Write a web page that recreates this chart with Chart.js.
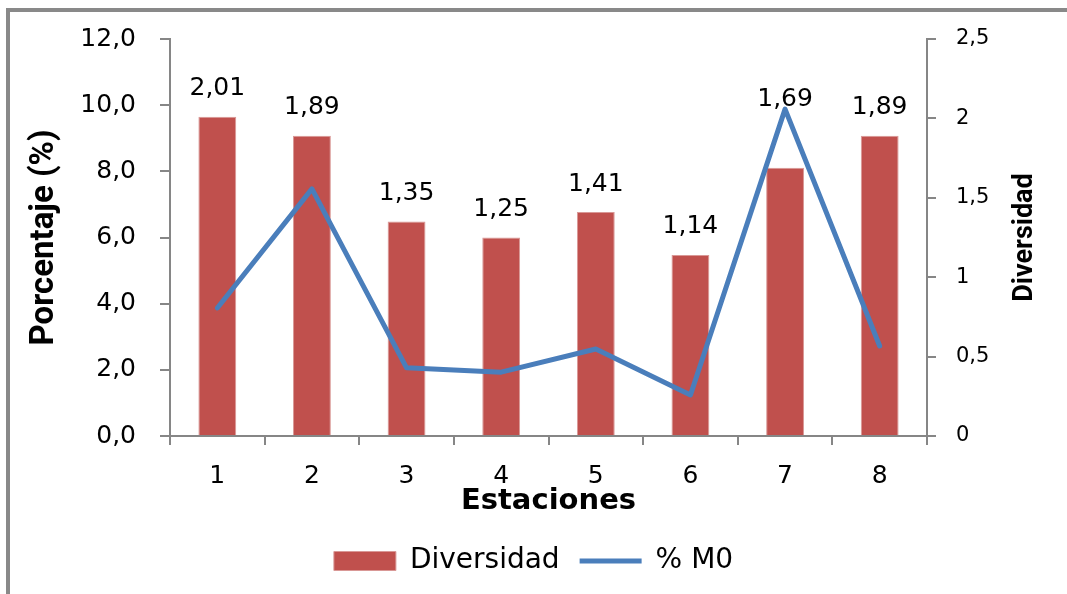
<!DOCTYPE html>
<html lang="es">
<head>
<meta charset="UTF-8">
<title>Diversidad y % M0 por estación</title>
<script src="https://cdn.jsdelivr.net/npm/chart.js"></script>
<style>
    html, body {
        margin: 0;
        background: #ffffff;
        overflow: hidden;
    }
    .frame {
        position: fixed;
        left: 6px;
        top: 8px;
        width: 1100px;
        height: 640px;
        border-left: 4px solid #898989;
        border-top: 4px solid #898989;
    }
    #chart {
        position: absolute;
        left: 0;
        top: 0;
    }
</style>
</head>
<body>
<div class="frame"></div>
<canvas id="chart" width="1067" height="594"></canvas>

<script>
// datos
const estaciones = ['1', '2', '3', '4', '5', '6', '7', '8'];
const diversidad = [2.01, 1.89, 1.35, 1.25, 1.41, 1.14, 1.69, 1.89];
const porcentajeM0 = [3.87, 7.47, 2.06, 1.93, 2.63, 1.24, 9.88, 2.72];
const ticksIzq = ['0,0', '2,0', '4,0', '6,0', '8,0', '10,0', '12,0'];
const ticksDer = ['0', '0,5', '1', '1,5', '2', '2,5'];

const gris = '#868686';
const fuente = "'DejaVu Sans', sans-serif";

// etiquetas de valor sobre las barras + titulo del eje derecho
const etiquetas = {
    id: 'etiquetas',
    afterDatasetsDraw(chart) {
        const ctx = chart.ctx;
        const barras = chart.getDatasetMeta(0).data;
        const linea = chart.getDatasetMeta(1).data;
        ctx.save();
        ctx.fillStyle = '#000';
        ctx.font = '25px ' + fuente;
        ctx.textAlign = 'center';
        ctx.textBaseline = 'middle';
        barras.forEach((bar, i) => {
            const y = Math.min(bar.y - 28, linea[i].y - 10);
            ctx.fillText(diversidad[i].toFixed(2).replace('.', ','), bar.x, y);
        });
        ctx.restore();

        ctx.save();
        ctx.translate(1025, (chart.chartArea.top + chart.chartArea.bottom) / 2);
        ctx.rotate(-Math.PI / 2);
        ctx.font = "bold 27px Roboto, sans-serif";
        ctx.fillStyle = '#000';
        ctx.textAlign = 'center';
        ctx.textBaseline = 'middle';
        ctx.fillText('Diversidad', 0, 0);
        ctx.restore();
    }
};

const chart = new Chart(document.getElementById('chart'), {
    type: 'bar',
    data: {
        labels: estaciones,
        datasets: [{
            label: 'Diversidad',
            data: diversidad,
            yAxisID: 'y1',
            backgroundColor: '#C0504D',
            borderColor: '#D99896',
            borderWidth: 1,
            barPercentage: 0.4,
            categoryPercentage: 1.0,
            pointStyle: 'rect',
            order: 1
        }, {
            type: 'line',
            label: '% M0',
            data: porcentajeM0,
            yAxisID: 'y',
            borderColor: '#4A7EBB',
            backgroundColor: '#4A7EBB',
            borderWidth: 5,
            borderCapStyle: 'round',
            borderJoinStyle: 'round',
            pointRadius: 0,
            pointStyle: 'line',
            tension: 0,
            order: 0
        }]
    },
    options: {
        responsive: false,
        animation: false,
        layout: {
            padding: { top: 38, left: 0, right: 0, bottom: 9 }
        },
        plugins: {
            tooltip: { enabled: false },
            legend: {
                position: 'bottom',
                labels: {
                    usePointStyle: true,
                    pointStyleWidth: 62,
                    boxHeight: 19,
                    padding: 20,
                    color: '#000',
                    font: { family: fuente, size: 28 },
                    sort: (a, b) => a.datasetIndex - b.datasetIndex
                }
            }
        },
        scales: {
            x: {
                grid: {
                    drawOnChartArea: false,
                    color: gris,
                    lineWidth: 2,
                    tickLength: 9
                },
                border: { color: gris, width: 2 },
                ticks: {
                    color: '#000',
                    padding: 16,
                    font: { family: fuente, size: 25 }
                },
                title: {
                    display: true,
                    text: 'Estaciones',
                    color: '#000',
                    font: { family: fuente, size: 29, weight: 'bold' },
                    padding: { top: 0, bottom: 8 }
                },
                afterFit(scale) { scale.height = 91; }
            },
            y: {
                position: 'left',
                min: 0,
                max: 12,
                ticks: {
                    stepSize: 2,
                    color: '#000',
                    padding: 24,
                    font: { family: fuente, size: 25 },
                    callback: (v, i) => ticksIzq[i]
                },
                grid: {
                    drawOnChartArea: false,
                    color: gris,
                    lineWidth: 2,
                    tickLength: 10
                },
                border: { color: gris, width: 2 },
                title: {
                    display: true,
                    text: 'Porcentaje (%)',
                    color: '#000',
                    font: { family: 'Roboto, sans-serif', size: 33, weight: 'bold' },
                    padding: { top: 25, bottom: 0 }
                },
                afterFit(scale) { scale.width = 170; }
            },
            y1: {
                position: 'right',
                min: 0,
                max: 2.5,
                ticks: {
                    stepSize: 0.5,
                    color: '#000',
                    padding: 20,
                    font: { family: fuente, size: 21 },
                    callback: (v, i) => ticksDer[i]
                },
                grid: {
                    drawOnChartArea: false,
                    color: gris,
                    lineWidth: 2,
                    tickLength: 9
                },
                border: { color: gris, width: 2 },
                afterFit(scale) { scale.width = 140; }
            }
        }
    },
    plugins: [etiquetas]
});
</script>
</body>
</html>
